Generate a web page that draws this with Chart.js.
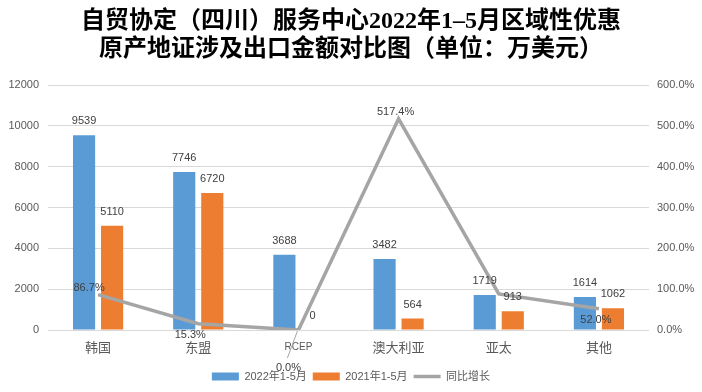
<!DOCTYPE html>
<html>
<head>
<meta charset="utf-8">
<title>区域性优惠原产地证对比图</title>
<script src="https://cdn.jsdelivr.net/npm/chart.js@4.4.1/dist/chart.umd.min.js"></script>
<style>
  body { margin: 0; background: #fff; }
  #grafico { display: block; }
</style>
</head>
<body>
<canvas id="grafico" width="702" height="392"></canvas>
<script>
// datos
const regiones = ['韩国', '东盟', 'RCEP', '澳大利亚', '亚太', '其他'];
const monto2022 = [9539, 7746, 3688, 3482, 1719, 1614];
const monto2021 = [5110, 6720, 0, 564, 913, 1062];
const crecimiento = [86.7, 15.3, 0.0, 517.4, 88.3, 52.0];
const ticksIzq = [0, 2000, 4000, 6000, 8000, 10000, 12000];
const ticksDer = [0, 100, 200, 300, 400, 500, 600];
const titulo = ['自贸协定（四川）服务中心2022年1–5月区域性优惠', '原产地证涉及出口金额对比图（单位：万美元）'];
const nombres = ['2022年1-5月', '2021年1-5月', '同比增长'];

// donde va cada etiqueta del % (dx, dy, linea guia); null = no se ve
const posPorcentaje = [[-9, -7], [-8, 11], [-10, 38, true], [-3, -7], null, [-3, 11]];

const azul = '#5b9bd5';
const naranja = '#ed7d31';
const gris = '#a5a5a5';
const fuente = '"Liberation Sans", "Noto Sans CJK SC", sans-serif';

Chart.defaults.font.family = fuente;
Chart.defaults.color = '#595959';

// etiquetas de valores sobre barras y linea
const etiquetas = {
  id: 'etiquetas',
  afterDatasetsDraw: function(chart){
    var ctx = chart.ctx;
    ctx.save();
    ctx.font = '11px ' + fuente;
    ctx.fillStyle = '#404040';
    ctx.textAlign = 'center';
    ctx.textBaseline = 'middle';

    [0, 1].forEach(function(i){
      chart.getDatasetMeta(i).data.forEach(function(barra, j){
        ctx.fillText(String(chart.data.datasets[i].data[j]), barra.x, barra.y - 14);
      });
    });

    chart.getDatasetMeta(2).data.forEach(function(punto, j){
      var pos = posPorcentaje[j];
      if (!pos) return;
      var lx = punto.x + pos[0];
      var ly = punto.y + pos[1];
      if (pos[2]) {
        ctx.strokeStyle = gris;
        ctx.lineWidth = 1;
        ctx.beginPath();
        ctx.moveTo(lx - 1, ly - 10);
        ctx.lineTo(punto.x - 1, punto.y + 1);
        ctx.stroke();
      }
      ctx.fillText(crecimiento[j].toFixed(1) + '%', lx, ly);
    });
    ctx.restore();
  }
};

var grafico = new Chart(document.getElementById('grafico'), {
  type: 'bar',
  data: {
    labels: regiones,
    datasets: [{
      label: nombres[0],
      data: monto2022,
      backgroundColor: azul,
      borderWidth: 0,
      yAxisID: 'y',
      order: 1
    },
    {
      label: nombres[1],
      data: monto2021,
      backgroundColor: naranja,
      borderWidth: 0,
      yAxisID: 'y',
      order: 1
    },
    {
      type: 'line',
      label: nombres[2],
      data: crecimiento,
      borderColor: gris,
      backgroundColor: gris,
      borderWidth: 3.5,
      pointRadius: 0,
      tension: 0,
      fill: false,
      yAxisID: 'y1',
      order: 0
    }]
  },
  options: {
    responsive: false,
    animation: false,
    barPercentage: 0.79,
    categoryPercentage: 0.56,
    layout: { padding: { left: 0, right: 0, top: 0, bottom: 0 } },
    scales: {
      x: {
        grid: { display: false },
        border: { display: false },
        ticks: {
          padding: 3,
          color: '#595959',
          font: function(c){
            if (c.tick && c.tick.label === 'RCEP') return { size: 10 };
            return { size: 13 };
          }
        },
        afterFit: function(s){ s.height = 35; }
      },
      y: {
        position: 'left',
        min: ticksIzq[0],
        max: ticksIzq[ticksIzq.length - 1],
        afterBuildTicks: function(s){ s.ticks = ticksIzq.map(function(v){ return { value: v }; }); },
        grid: { color: '#d9d9d9', drawTicks: false },
        border: { display: false },
        ticks: {
          padding: 9,
          font: { size: 11 },
          color: '#595959',
          callback: function(v){ return String(v); }
        },
        afterFit: function(s){ s.width = 48; }
      },
      y1: {
        position: 'right',
        min: ticksDer[0],
        max: ticksDer[ticksDer.length - 1],
        afterBuildTicks: function(s){ s.ticks = ticksDer.map(function(v){ return { value: v }; }); },
        grid: { display: false, drawTicks: false },
        border: { display: false },
        ticks: {
          padding: 8,
          font: { size: 11 },
          color: '#595959',
          callback: function(v){ return Number(v).toFixed(1) + '%'; }
        },
        afterFit: function(s){ s.width = 53; }
      }
    },
    plugins: {
      title: {
        display: true,
        text: titulo,
        color: '#000',
        font: { family: '"Liberation Serif", "Noto Sans CJK SC", serif', size: 24, weight: 'bold', lineHeight: 1.17 },
        padding: { top: 8, bottom: 21 }
      },
      legend: {
        position: 'bottom',
        labels: {
          usePointStyle: true,
          pointStyleWidth: 27,
          boxHeight: 8,
          padding: 6,
          color: '#595959',
          font: { size: 11 },
          sort: function(a, b){ return a.datasetIndex - b.datasetIndex; },
          generateLabels: function(chart){
            var items = Chart.defaults.plugins.legend.labels.generateLabels(chart);
            items.forEach(function(it){
              it.pointStyle = it.datasetIndex === 2 ? 'line' : 'rect';
              if (it.datasetIndex === 2) {
                it.strokeStyle = gris;
                it.lineWidth = 3.5;
              } else {
                it.lineWidth = 0;
              }
            });
            return items;
          }
        }
      },
      tooltip: { enabled: false }
    }
  },
  plugins: [etiquetas]
});
</script>
</body>
</html>
